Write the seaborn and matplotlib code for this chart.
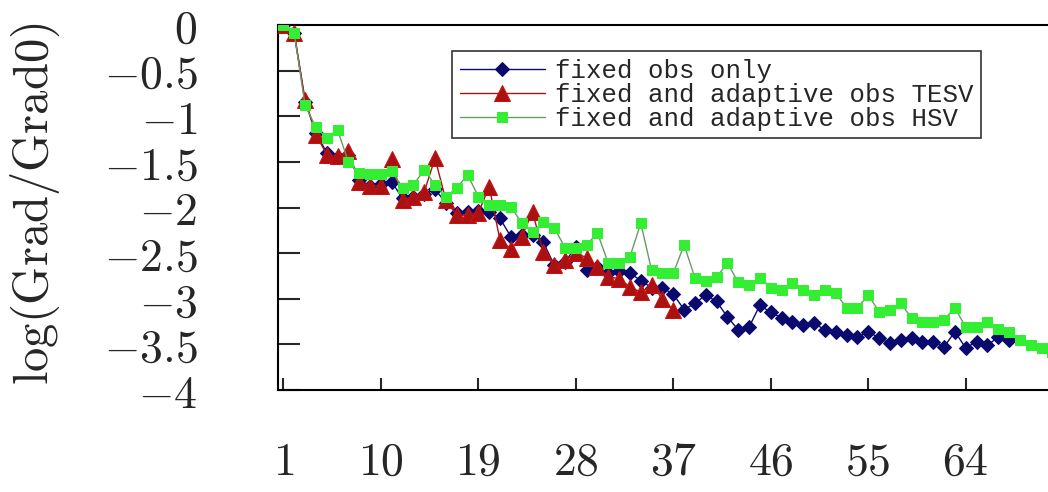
import matplotlib
matplotlib.use('Agg')
import matplotlib.pyplot as plt
import seaborn as sns

# data
fixed_only = [0, -0.09, -0.84, -1.18, -1.4, -1.45, -1.42, -1.7, -1.76, -1.74,
              -1.72, -1.9, -1.88, -1.85, -1.8, -1.95, -2.06, -2.05, -2.04, -2.05,
              -2.12, -2.32, -2.3, -2.3, -2.38, -2.63, -2.6, -2.43, -2.69, -2.65,
              -2.72, -2.7, -2.72, -2.8, -2.88, -2.88, -2.95, -3.12, -3.05, -2.96,
              -3.03, -3.2, -3.34, -3.31, -3.07, -3.15, -3.21, -3.25, -3.29, -3.27,
              -3.34, -3.36, -3.4, -3.42, -3.36, -3.43, -3.49, -3.45, -3.43, -3.47,
              -3.47, -3.53, -3.36, -3.54, -3.47, -3.51, -3.42, -3.45]
tesv = [0, -0.09, -0.82, -1.2, -1.42, -1.44, -1.38, -1.72, -1.76, -1.76,
        -1.47, -1.92, -1.88, -1.83, -1.46, -1.92, -2.08, -2.08, -2.06, -1.77,
        -2.36, -2.45, -2.32, -2.05, -2.49, -2.63, -2.58, -2.5, -2.55, -2.65,
        -2.76, -2.78, -2.87, -2.93, -2.85, -3.0, -3.12]
hsv = [0, -0.09, -0.88, -1.12, -1.24, -1.15, -1.5, -1.62, -1.63, -1.63,
       -1.6, -1.79, -1.75, -1.59, -1.75, -1.88, -1.79, -1.64, -1.88, -1.97,
       -1.97, -1.99, -2.17, -2.27, -2.16, -2.22, -2.44, -2.44, -2.41, -2.28,
       -2.61, -2.61, -2.54, -2.17, -2.69, -2.72, -2.72, -2.41, -2.77, -2.8,
       -2.76, -2.61, -2.82, -2.85, -2.77, -2.88, -2.9, -2.83, -2.9, -2.96,
       -2.9, -2.94, -3.1, -3.1, -2.96, -3.14, -3.12, -3.05, -3.21, -3.25,
       -3.25, -3.23, -3.1, -3.31, -3.31, -3.25, -3.33, -3.36, -3.45, -3.51,
       -3.54, -3.58]

labels = ['fixed obs only', 'fixed and adaptive obs TESV', 'fixed and adaptive obs HSV']
x_ticks = [1, 10, 19, 28, 37, 46, 55, 64]
y_ticks = [0, -0.5, -1, -1.5, -2, -2.5, -3, -3.5, -4]
y_tick_labels = [r'$0$', r'$-0.5$', r'$-1$', r'$-1.5$', r'$-2$', r'$-2.5$', r'$-3$', r'$-3.5$', r'$-4$']
x_tick_labels = [r'$%d$' % t for t in x_ticks]
y_title = r'$\mathrm{log(Grad/Grad0)}$'

sns.set_style('white')
plt.rcParams['font.family'] = ['DejaVu Serif']
plt.rcParams['mathtext.fontset'] = 'cm'


def plot_data():
    fig = plt.figure(figsize=(10.48, 4.92), dpi=100)
    ax = fig.add_axes([278 / 1048, 1 - 390 / 492, 1 - 278 / 1048, (390 - 25) / 492])

    sns.lineplot(x=range(1, len(fixed_only) + 1), y=fixed_only, ax=ax, color='#0a0a6e',
                 marker='D', markersize=7, markeredgecolor='#0a0a6e', linewidth=1,
                 label=labels[0], zorder=2)
    sns.lineplot(x=range(1, len(tesv) + 1), y=tesv, ax=ax, color='#dd1111',
                 marker='^', markersize=11, markeredgecolor='#cc1010', linewidth=1,
                 label=labels[1], zorder=3)
    sns.lineplot(x=range(1, len(hsv) + 1), y=hsv, ax=ax, color='#44d044',
                 marker='s', markersize=7, markeredgecolor='#33ee33', markerfacecolor='#33ee33',
                 linewidth=1, label=labels[2], zorder=4)
    for line, c in zip(ax.lines, ['#0a0a6e', '#aa1111', '#6a9a6a']):
        line.set_color(c)

    ax.set_xlim(0.5, 71.6)
    ax.set_ylim(-4, 0)
    ax.set_xticks(x_ticks)
    ax.set_xticklabels(x_tick_labels, fontsize=33)
    ax.set_yticks(y_ticks)
    ax.set_yticklabels(y_tick_labels, fontsize=33)
    ax.tick_params(axis='y', direction='in', length=16, width=1.5, pad=58, left=True)
    ax.tick_params(axis='x', direction='in', length=9, width=1.5, pad=36, bottom=True)
    ax.set_xlabel('')
    ax.set_ylabel(y_title, fontsize=35)
    ax.yaxis.set_label_coords(-0.28, 0.51)

    for side in ['left', 'top', 'bottom']:
        ax.spines[side].set_color('black')
        ax.spines[side].set_linewidth(1.5)
    ax.spines['right'].set_visible(False)

    leg = ax.legend(loc='upper left', bbox_to_anchor=(452 / 1048, 1 - 51 / 492),
                    bbox_transform=fig.transFigure, frameon=True, fancybox=False,
                    prop={'family': 'Liberation Mono', 'size': 18.5}, handlelength=3.3,
                    handletextpad=0.4, labelspacing=0.0, borderpad=0.3, borderaxespad=0)
    leg.get_frame().set_edgecolor('black')
    leg.get_frame().set_linewidth(1.2)

    fig.savefig('out.png', dpi=100)


if __name__ == '__main__':
    plot_data()
